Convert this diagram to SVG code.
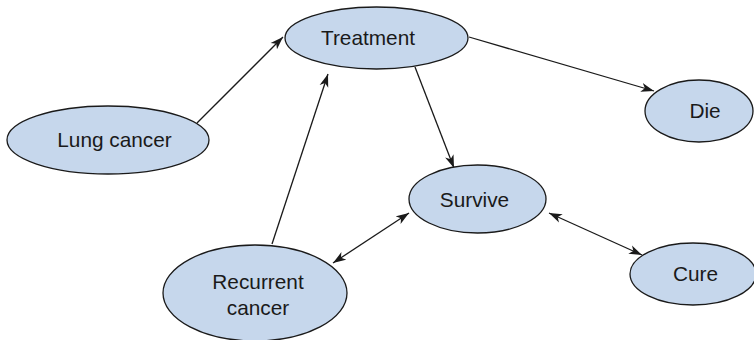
<svg xmlns="http://www.w3.org/2000/svg" width="754" height="340" viewBox="0 0 754 340">
<defs>
<style>
.node ellipse{fill:#c6d7ec;stroke:#1a1a1a;stroke-width:1.3}
.node text{font-family:"Liberation Sans",Arial,sans-serif;font-size:20.8px;fill:#1a1a1a;text-anchor:middle}
.edges line{stroke:#1a1a1a;stroke-width:1.3;fill:none}
</style>
<marker id="arr" markerUnits="userSpaceOnUse" markerWidth="14" markerHeight="10" refX="13" refY="5" orient="auto-start-reverse" viewBox="0 0 14 10">
<path d="M0,0.5 L13,5 L0,9.5 L3.5,5 Z" fill="#1a1a1a"/>
</marker>
</defs>
<rect width="754" height="340" fill="#ffffff"/>
<g class="edges">
<line x1="197" y1="123" x2="283" y2="37" marker-end="url(#arr)"/>
<line x1="272" y1="244" x2="328" y2="74" marker-end="url(#arr)"/>
<line x1="469" y1="37" x2="654" y2="91" marker-end="url(#arr)"/>
<line x1="415" y1="67" x2="454" y2="168" marker-end="url(#arr)"/>
<line x1="333" y1="263" x2="409" y2="213" marker-start="url(#arr)" marker-end="url(#arr)"/>
<line x1="549" y1="213" x2="642" y2="255" marker-start="url(#arr)" marker-end="url(#arr)"/>
</g>
<g id="treatment" class="node"><ellipse cx="376.5" cy="38" rx="91.5" ry="31"/><text x="368" y="45">Treatment</text></g>
<g id="die" class="node"><ellipse cx="699" cy="111" rx="54" ry="31"/><text x="705" y="118">Die</text></g>
<g id="lung-cancer" class="node"><ellipse cx="108" cy="140" rx="101" ry="34"/><text x="114.5" y="147">Lung cancer</text></g>
<g id="survive" class="node"><ellipse cx="477.5" cy="199" rx="68.5" ry="34"/><text x="474.5" y="207">Survive</text></g>
<g id="recurrent-cancer" class="node"><ellipse cx="255" cy="293" rx="92" ry="48"/><text x="258" y="289">Recurrent</text><text x="258" y="315">cancer</text></g>
<g id="cure" class="node"><ellipse cx="693" cy="274" rx="63" ry="31"/><text x="695.5" y="281">Cure</text></g>
</svg>
